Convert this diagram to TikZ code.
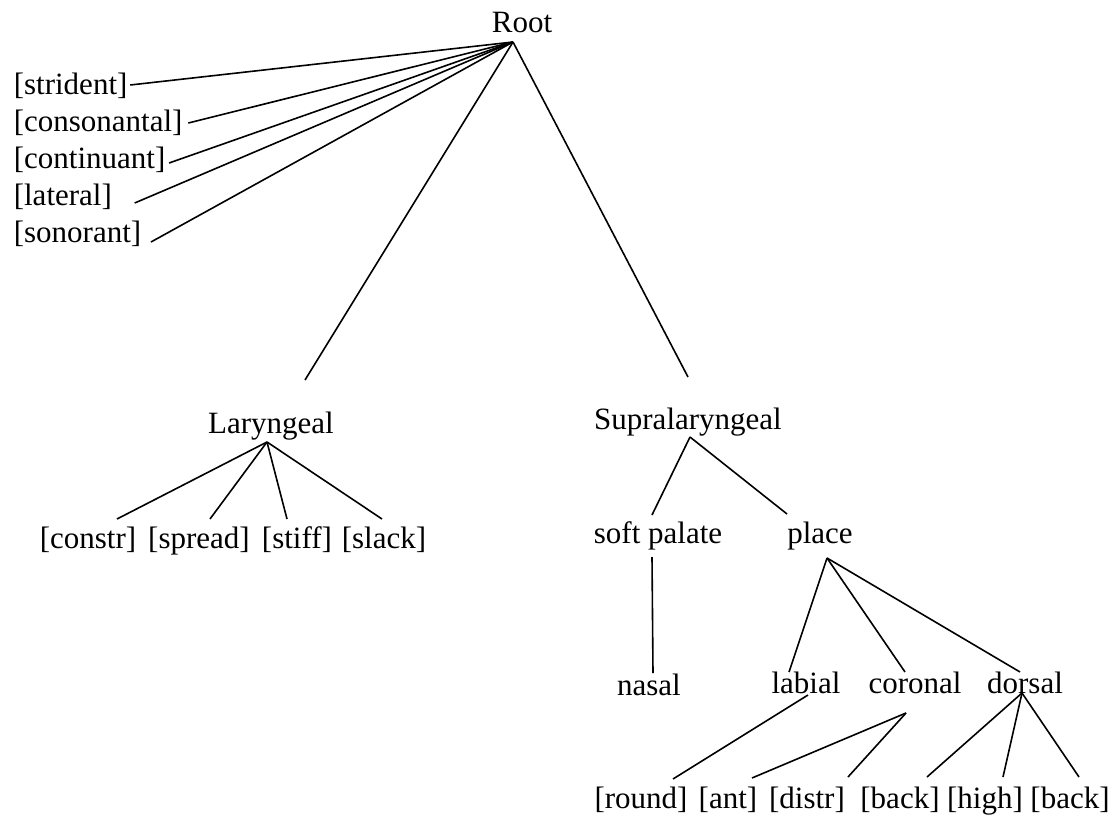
\documentclass[tikz,border=0pt]{standalone}
\usepackage{fontspec}
\setmainfont{Liberation Serif}
\usetikzlibrary{positioning}

\begin{document}
\begin{tikzpicture}[x=1pt, y=-1pt, line width=1.6pt,
    feat/.style={inner sep=0pt, anchor=base, font=\fontsize{31}{37}\selectfont}]
  \useasboundingbox (0,0) rectangle (1117,819);
  % root with its bare features
  \node[feat] (root) at (522,32) {Root};
  \coordinate (rootft) at ([shift={(-9pt,-10pt)}]root.base);
  \foreach \n/\txt/\yb/\dx/\dy in {str/strident/94/2/9, cons/consonantal/131/5/8,
      cont/continuant/168/3/5, lat/lateral/205/22/2, son/sonorant/242/9/0} {
    \node[feat, anchor=base west] (\n) at (13,\yb) {[\txt]};
    \draw ([shift={(\dx pt,\dy pt)}]\n.base east) -- (rootft);
  }
  % laryngeal
  \node[feat] (lar) at (271,433) {Laryngeal};
  \coordinate (larft) at ([shift={(-4pt,-9pt)}]lar.base);
  \draw (rootft) -- ([shift={(34pt,53pt)}]lar.base);
  \foreach \n/\x/\dx in {constr/88/29, spread/199/11, stiff/297/-10, slack/384/-2} {
    \node[feat] (\n) at (\x,548) {[\n]};
    \draw (larft) -- ([shift={(\dx pt,29pt)}]\n.base);
  }
  % supralaryngeal
  \node[feat] (sup) at (688,429) {Supralaryngeal};
  \coordinate (supft) at ([shift={(2pt,-8pt)}]sup.base);
  \draw (rootft) -- ([yshift=52pt]sup.base);
  \node[feat] (soft) at (658,543) {soft palate};
  \node[feat] (place) at (820,543) {place};
  \draw (supft) -- ([shift={(-6pt,28pt)}]soft.base);
  \draw (supft) -- ([shift={(-33pt,29pt)}]place.base);
  \node[feat] (nasal) at (649,695) {nasal};
  \draw ([shift={(-6pt,-14pt)}]soft.base) -- ([shift={(4pt,22pt)}]nasal.base);
  % place and articulators
  \coordinate (placeft) at ([shift={(7pt,-15pt)}]place.base);
  \foreach \n/\x/\dx in {labial/806/-17, coronal/915/-10, dorsal/1025/-5} {
    \node[feat] (\n) at (\x,693) {\n};
    \draw (placeft) -- ([shift={(\dx pt,21pt)}]\n.base);
  }
  \foreach \n/\txt/\x in {round/round/641, ant/ant/728, distr/distr/807,
      back/back/900, high/high/985, backb/back/1070}
    \node[feat] (\n) at (\x,808) {[\txt]};
  \coordinate (labft) at ([shift={(2pt,-2pt)}]labial.base);
  \coordinate (corft) at ([shift={(-9pt,-20pt)}]coronal.base);
  \coordinate (dorft) at ([xshift=-3pt]dorsal.base);
  \draw (labft) -- ([shift={(32pt,29pt)}]round.base);
  \draw (corft) -- ([shift={(24pt,30pt)}]ant.base);
  \draw (corft) -- ([shift={(41pt,31pt)}]distr.base);
  \foreach \n/\dx in {back/27, high/18, backb/9}
    \draw (dorft) -- ([shift={(\dx pt,31pt)}]\n.base);
\end{tikzpicture}
\end{document}
